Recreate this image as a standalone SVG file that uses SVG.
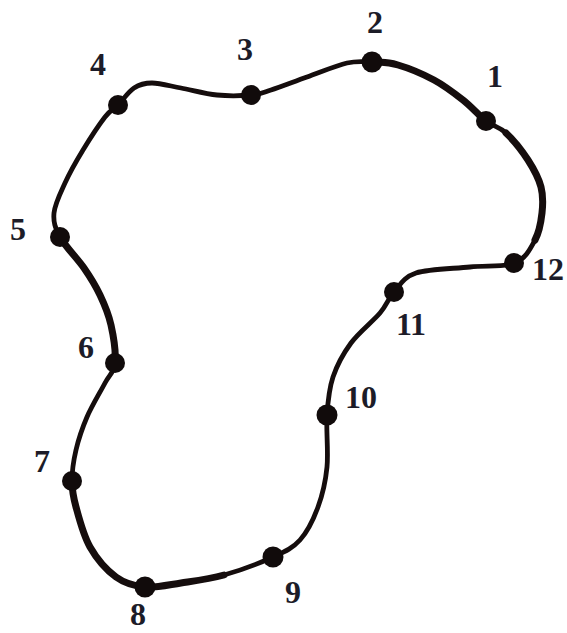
<svg xmlns="http://www.w3.org/2000/svg" width="567" height="633" viewBox="0 0 567 633">
<style>
.curve{fill:none;stroke:#150d0d;stroke-width:4.8;stroke-linejoin:round;stroke-linecap:round}
.thick{fill:none;stroke:#150d0d;stroke-width:7;stroke-linecap:round}
.dot{fill:#110b0b}
.lbl{font-family:"Liberation Serif","Times New Roman",serif;font-weight:bold;font-size:32px;fill:#1c1c28;text-anchor:middle}
</style>
<rect width="567" height="633" fill="#ffffff"/>
<g id="connectors">
<path class="curve" d="M486,121 C493.2,126.5 499,126.5 506,133 C513,139.5 522.2,151 528,160 C533.8,169 538.7,178.2 541,187 C543.3,195.8 543,204.2 542,213 C541,221.8 539.5,231.7 535,240 C530.5,248.3 525.8,258.5 515,263 C504.2,267.5 486.5,265.3 470,267 C453.5,268.7 428.7,268.8 416,273 C403.3,277.2 400,285.3 394,292 C388,298.7 387.2,304.5 380,313 C372.8,321.5 358.8,332.3 351,343 C343.2,353.7 337,365 333,377 C329,389 328,400 327,415 C326,430 328.5,451.7 327,467 C325.5,482.3 322.5,494.8 318,507 C313.5,519.2 307.5,531.7 300,540 C292.5,548.3 285.7,551.2 273,557 C260.3,562.8 239.3,570.7 224,575 C208.7,579.3 194.2,581 181,583 C167.8,585 155.8,588 145,587 C134.2,586 125.2,583.7 116,577 C106.8,570.3 96.7,558.7 90,547 C83.3,535.3 79,518 76,507 C73,496 72,490.5 72,481 C72,471.5 73.5,460.7 76,450 C78.5,439.3 82.2,428.2 87,417 C91.8,405.8 100.3,392 105,383 C109.7,374 114,372.7 115,363 C116,353.3 113.5,336.3 111,325 C108.5,313.7 104.5,304.5 100,295 C95.5,285.5 90.7,277.7 84,268 C77.3,258.3 65,246.2 60,237 C55,227.8 53.2,222 54,213 C54.8,204 60.2,193.5 65,183 C69.8,172.5 76.3,161 83,150 C89.7,139 99.2,124.5 105,117 C110.8,109.5 113.2,109.8 118,105 C122.8,100.2 128.3,91.7 134,88 C139.7,84.3 144.2,83 152,83 C159.8,83 170.2,86 181,88 C191.8,90 205.3,93.8 217,95 C228.7,96.2 242,95.8 251,95 C260,94.2 261.7,93 271,90 C280.3,87 294.3,81.5 307,77 C319.7,72.5 336.2,65.5 347,63 C357.8,60.5 363.5,61.7 372,62 C380.5,62.3 387.7,62 398,65 C408.3,68 423.2,74.2 434,80 C444.8,85.8 454.3,93.2 463,100 C471.7,106.8 478.8,115.5 486,121 Z"/>
<path class="thick" d="M380,62.3 C387.7,62 398,65 398,65 C408.3,68 423.2,74.2 434,80 C444.8,85.8 454.3,93.2 463,100 C471.7,106.8 478.8,115.5 486,121"/>
<path class="thick" d="M506,133 C513,139.5 522.2,151 528,160 C533.8,169 538.7,178.2 541,187 C543.3,195.8 543,204.2 542,213 C541,221.8 539.5,231.7 535,240"/>
<path class="thick" d="M115,363 C116,353.3 113.5,336.3 111,325 C108.5,313.7 104.5,304.5 100,295 C95.5,285.5 90.7,277.7 84,268 C77.3,258.3 65,246.2 60,237"/>
<path class="thick" d="M224,575 C208.7,579.3 194.2,581 181,583 C167.8,585 155.8,588 145,587 C134.2,586 125.2,583.7 116,577 C106.8,570.3 96.7,558.7 90,547 C83.3,535.3 79,518 76,507 C73,496 72,490.5 72,481"/>
</g>
<g id="node1"><circle class="dot" cx="486" cy="121" r="10"/><text class="lbl" x="495" y="87">1</text></g>
<g id="node2"><circle class="dot" cx="372" cy="62" r="10.5"/><text class="lbl" x="375" y="33">2</text></g>
<g id="node3"><circle class="dot" cx="251" cy="95" r="10"/><text class="lbl" x="245" y="60">3</text></g>
<g id="node4"><circle class="dot" cx="118" cy="105" r="10"/><text class="lbl" x="98" y="75">4</text></g>
<g id="node5"><circle class="dot" cx="60" cy="237" r="10"/><text class="lbl" x="18" y="240">5</text></g>
<g id="node6"><circle class="dot" cx="115" cy="363" r="10"/><text class="lbl" x="86" y="358">6</text></g>
<g id="node7"><circle class="dot" cx="72" cy="481" r="10"/><text class="lbl" x="42" y="472">7</text></g>
<g id="node8"><circle class="dot" cx="145" cy="587" r="10.5"/><text class="lbl" x="138" y="625">8</text></g>
<g id="node9"><circle class="dot" cx="273" cy="557" r="10.5"/><text class="lbl" x="293" y="603">9</text></g>
<g id="node10"><circle class="dot" cx="327" cy="415" r="10.5"/><text class="lbl" x="361" y="408">10</text></g>
<g id="node11"><circle class="dot" cx="394" cy="292" r="10"/><text class="lbl" x="411" y="335">11</text></g>
<g id="node12"><circle class="dot" cx="514" cy="263" r="10"/><text class="lbl" x="548" y="280">12</text></g>
</svg>
